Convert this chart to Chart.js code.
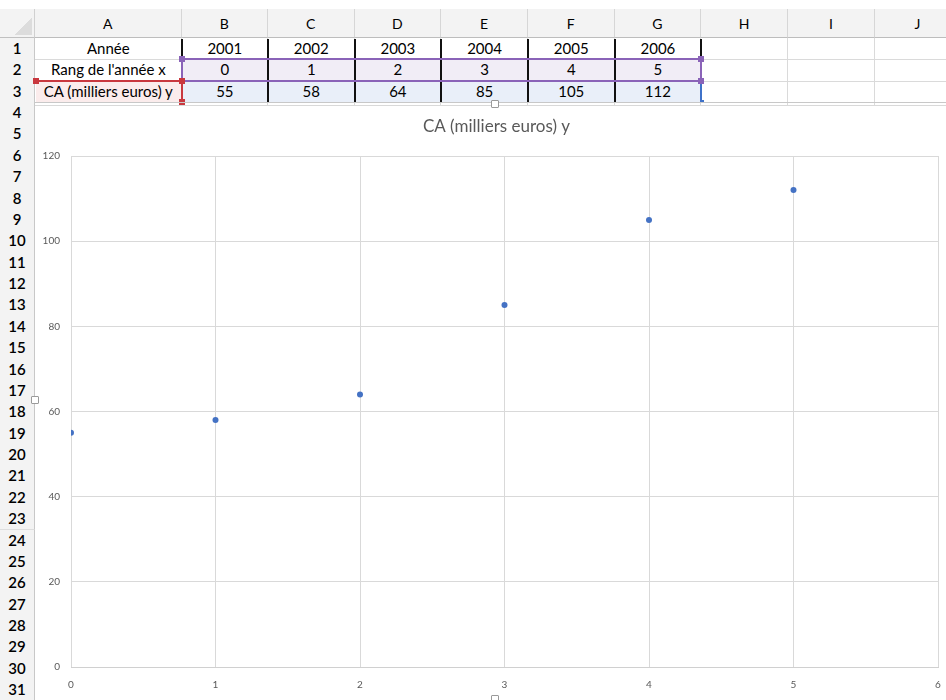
<!DOCTYPE html>
<html>
<head>
<meta charset="utf-8">
<script src="https://cdn.jsdelivr.net/npm/chart.js@4/dist/chart.umd.min.js"></script>
<style>
  html,body{margin:0;padding:0;background:#fff;width:946px;height:700px;overflow:hidden;font-family:"Lato","Open Sans",sans-serif;}
  #sheet{position:absolute;left:0;top:0;width:946px;height:700px;}
  .abs{position:absolute;box-sizing:border-box;}
  .hdr{background:#f3f3f3;color:#000;font-size:14px;text-align:center;}
  .cell{font-size:15px;color:#000;text-align:center;white-space:nowrap;overflow:hidden;}
  #chartBox{position:absolute;left:35px;top:105px;width:911px;height:595px;background:#fff;border-top:1px solid #d9d9d9;box-sizing:border-box;}
  .handle{position:absolute;width:8px;height:8px;background:#fff;border:1px solid #9a9a9a;box-sizing:border-box;border-radius:1px;}
</style>
</head>
<body>
<div id="sheet"></div>
<div id="chartBox"><canvas id="c"></canvas></div>
<script>
// ---- data ----
const rowLabels = ["Année", "Rang de l'année x", "CA (milliers euros) y"];
const years = [2001, 2002, 2003, 2004, 2005, 2006];
const ranks = [0, 1, 2, 3, 4, 5];
const caValues = [55, 58, 64, 85, 105, 112];
const colLetters = ["A","B","C","D","E","F","G","H","I","J"];
const chartTitle = "CA (milliers euros) y";
const xTicks = [0,1,2,3,4,5,6];
const yTicks = [0,20,40,60,80,100,120];

// ---- spreadsheet grid (layout) ----
const sheet = document.getElementById('sheet');
function box(l,t,w,h,cls,css,text){
  const d=document.createElement('div');
  d.className='abs '+(cls||'');
  d.style.left=l+'px';d.style.top=t+'px';d.style.width=w+'px';d.style.height=h+'px';
  if(css) Object.assign(d.style,css);
  if(text!==undefined){d.textContent=text;}
  sheet.appendChild(d);return d;
}
const hdrTop=9, hdrH=29, rowH=21.37, rowTop0=38;
const colX=[35,181.7,268,354.5,441.2,528,614.5,701.3,788,875,961];
// corner
box(0,hdrTop,35,hdrH,'hdr',{borderRight:'1px solid #d0d0d0',borderBottom:'1px solid #c0c0c0'});
box(14,hdrTop+8,18,18,'',{background:'linear-gradient(135deg, transparent 50%, #dcdcdc 50%)'});
// column headers
for(let i=0;i<colLetters.length;i++){
  box(colX[i],hdrTop,colX[i+1]-colX[i],hdrH,'hdr',{borderRight:'1px solid #d6d6d6',borderBottom:'1px solid #bdbdbd',lineHeight:(hdrH)+'px',fontSize:'14px'},colLetters[i]);
}
// row headers
for(let r=0;r<31;r++){
  const t=rowTop0+r*rowH;
  box(0,t,35,rowH+1,'hdr',{borderRight:'1px solid #c8c8c8',borderBottom:'1px solid #dedede',lineHeight:rowH+'px',fontSize:'15px',fontWeight:'600'},String(r+1));
}
// cell grid lines rows 1-4
for(let r=0;r<4;r++){
  const t=rowTop0+r*rowH;
  for(let i=0;i<colLetters.length;i++){
    box(colX[i],t,colX[i+1]-colX[i],rowH+1,'',{borderRight:'1px solid #dadada',borderBottom:'1px solid #dadada'});
  }
}
// selection backgrounds
box(colX[0]+1,rowTop0+2*rowH+1,colX[1]-colX[0]-1,rowH-1,'',{background:'#fbecec'});
box(colX[1],rowTop0+1*rowH+1,colX[7]-colX[1],rowH-1,'',{background:'#f1edf6'});
box(colX[1],rowTop0+2*rowH+1,colX[7]-colX[1],rowH-1,'',{background:'#e9eff9'});
// cell texts
const rowsData=[years,ranks,caValues];
for(let r=0;r<3;r++){
  const t=rowTop0+r*rowH;
  box(colX[0],t,colX[1]-colX[0],rowH,'cell',{lineHeight:rowH+'px'},rowLabels[r]);
  for(let i=0;i<rowsData[r].length;i++){
    box(colX[i+1],t,colX[i+2]-colX[i+1],rowH,'cell',{lineHeight:rowH+'px'},String(rowsData[r][i]));
  }
}
// vertical borders
for(let i=1;i<=7;i++){
  for(let r=0;r<3;r++){
    const t=rowTop0+r*rowH;
    let color='#111';
    if((i===1||i===7)&&r===1) color='#8a63b8';
    if(i===1&&r===2) color='#c9383f';
    if(i===7&&r===2) color='#3f72c9';
    box(colX[i]-1,t+1,2,rowH,'',{background:color});
  }
}
// purple lines around row 2 B..G
box(colX[1],rowTop0+rowH-1,colX[7]-colX[1],2,'',{background:'#8a63b8'});
box(colX[1],rowTop0+2*rowH-1,colX[7]-colX[1],2,'',{background:'#8a63b8'});
// red line above A3
box(colX[0],rowTop0+2*rowH-1,colX[1]-colX[0],2,'',{background:'#c9383f'});
// handles
function sq(x,y,c){box(x-3,y-3,6,6,'',{background:c});}
sq(colX[1],rowTop0+rowH,'#8a63b8');
sq(colX[7],rowTop0+rowH,'#8a63b8');
sq(colX[7],rowTop0+2*rowH,'#8a63b8');
sq(colX[1],rowTop0+2*rowH,'#c9383f');
sq(colX[0]+1,rowTop0+2*rowH,'#c9383f');
sq(colX[1],rowTop0+3*rowH,'#c9383f');
box(colX[7]-1,rowTop0+3*rowH-2,4,3,'',{background:'#3f72c9'});
box(35,rowTop0+3*rowH,911,1,'',{background:'#c8c8c8'});

// ---- chart ----
const ctx=document.getElementById('c');
const fam='"Lato","Open Sans",sans-serif';
const shiftTitle={id:'shiftTitle',afterLayout(c){const t=c.titleBlock;if(t){t.left+=10;t.right+=10;}}};
new Chart(ctx,{
  type:'scatter',
  data:{datasets:[{
    label:chartTitle,
    data:ranks.map((x,i)=>({x:x,y:caValues[i]})),
    backgroundColor:'#4472C4',
    borderColor:'#4472C4',
    pointRadius:3,
    pointHoverRadius:3,
    pointBorderWidth:0
  }]},
  plugins:[shiftTitle],
  options:{
    responsive:true,
    maintainAspectRatio:false,
    animation:false,
    layout:{padding:{left:0,right:8,top:0,bottom:0}},
    plugins:{
      legend:{display:false},
      tooltip:{enabled:false},
      title:{display:true,text:chartTitle,color:'#595959',
        font:{family:fam,size:17,weight:'normal'},
        padding:{top:10.8,bottom:18.8}}
    },
    scales:{
      x:{type:'linear',min:0,max:6,
        afterBuildTicks:s=>{s.ticks=xTicks.map(v=>({value:v}));},
        afterFit:s=>{s.height=33;},
        grid:{color:'#d9d9d9',drawTicks:true,tickLength:12,tickColor:'rgba(0,0,0,0)',lineWidth:1},
        border:{color:'#d0d0d0',width:1},
        ticks:{color:'#595959',padding:0,font:{family:fam,size:10}}
      },
      y:{type:'linear',min:0,max:120,
        afterBuildTicks:s=>{s.ticks=yTicks.map(v=>({value:v}));},
        afterFit:s=>{s.width=36;},
        grid:{color:'#d9d9d9',drawTicks:false,lineWidth:1},
        border:{display:false},
        ticks:{color:'#595959',padding:11,font:{family:fam,size:10}}
      }
    }
  }
});
// chart selection handles
function handle(l,t){const h=document.createElement('div');h.className='handle';h.style.left=l+'px';h.style.top=t+'px';document.body.appendChild(h);}
handle(491,100);handle(491,695);handle(31,396);
</script>
</body>
</html>
